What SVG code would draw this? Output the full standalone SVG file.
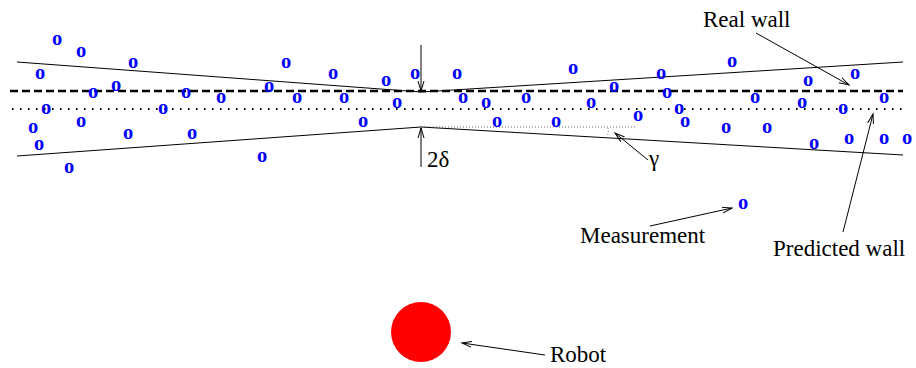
<svg xmlns="http://www.w3.org/2000/svg" width="916" height="368" viewBox="0 0 916 368">
<style>
.o{font-family:"Liberation Serif","Times New Roman",serif;font-weight:bold;font-size:20.5px;fill:#0000ff;text-anchor:middle}
.lbl{font-family:"Liberation Serif","Times New Roman",serif;font-size:23px;fill:#000}
.thin{stroke:#000;stroke-width:1;fill:none}
</style>
<defs>
<marker id="ah" markerWidth="12" markerHeight="8" refX="10" refY="4" orient="auto" markerUnits="userSpaceOnUse">
<path d="M0,1 L10,4 L0,7" fill="none" stroke="#000" stroke-width="1"/>
</marker>
</defs>
<rect width="916" height="368" fill="#fff"/>
<g id="walls">
<polyline class="thin" points="17,62 421,92 903,62"/>
<polyline class="thin" points="17,156 421,127 903,155"/>
<line x1="10" y1="91" x2="903" y2="91" stroke="#000" stroke-width="2.5" stroke-dasharray="8 4"/>
<line x1="12" y1="109" x2="903" y2="109" stroke="#000" stroke-width="2" stroke-dasharray="1.6 6.4"/>
<line x1="421" y1="127" x2="636" y2="127" stroke="#444" stroke-width="0.8" stroke-dasharray="1 2"/>
<path d="M608,128 Q609,132 607,136" fill="none" stroke="#444" stroke-width="0.8" stroke-dasharray="1 2"/>
</g>
<g id="measurements">
<text class="o" x="57" y="45">o</text>
<text class="o" x="81" y="57">o</text>
<text class="o" x="133" y="68">o</text>
<text class="o" x="40" y="79">o</text>
<text class="o" x="116" y="91">o</text>
<text class="o" x="93" y="98">o</text>
<text class="o" x="186" y="98">o</text>
<text class="o" x="221" y="103">o</text>
<text class="o" x="46" y="114">o</text>
<text class="o" x="163" y="114">o</text>
<text class="o" x="33" y="133">o</text>
<text class="o" x="81" y="127">o</text>
<text class="o" x="128" y="139">o</text>
<text class="o" x="192" y="139">o</text>
<text class="o" x="39" y="150">o</text>
<text class="o" x="69" y="173">o</text>
<text class="o" x="286" y="68">o</text>
<text class="o" x="333" y="79">o</text>
<text class="o" x="386" y="86">o</text>
<text class="o" x="415" y="79">o</text>
<text class="o" x="457" y="79">o</text>
<text class="o" x="269" y="92">o</text>
<text class="o" x="297" y="103">o</text>
<text class="o" x="344" y="103">o</text>
<text class="o" x="397" y="108">o</text>
<text class="o" x="463" y="103">o</text>
<text class="o" x="363" y="127">o</text>
<text class="o" x="262" y="162">o</text>
<text class="o" x="573" y="74">o</text>
<text class="o" x="614" y="92">o</text>
<text class="o" x="661" y="79">o</text>
<text class="o" x="667" y="98">o</text>
<text class="o" x="486" y="108">o</text>
<text class="o" x="526" y="103">o</text>
<text class="o" x="591" y="108">o</text>
<text class="o" x="679" y="114">o</text>
<text class="o" x="497" y="127">o</text>
<text class="o" x="556" y="127">o</text>
<text class="o" x="638" y="121">o</text>
<text class="o" x="685" y="127">o</text>
<text class="o" x="732" y="67">o</text>
<text class="o" x="808" y="86">o</text>
<text class="o" x="855" y="79">o</text>
<text class="o" x="755" y="103">o</text>
<text class="o" x="802" y="108">o</text>
<text class="o" x="843" y="114">o</text>
<text class="o" x="884" y="103">o</text>
<text class="o" x="726" y="133">o</text>
<text class="o" x="767" y="133">o</text>
<text class="o" x="814" y="149">o</text>
<text class="o" x="849" y="144">o</text>
<text class="o" x="884" y="144">o</text>
<text class="o" x="907" y="144">o</text>
<text class="o" x="743" y="209">o</text>
</g>
<g id="robot">
<circle cx="421" cy="332" r="30" fill="#ff0000"/>
</g>
<g id="labels">
<text class="lbl" x="703" y="27">Real wall</text>
<text class="lbl" x="580" y="243">Measurement</text>
<text class="lbl" x="773" y="256">Predicted wall</text>
<text class="lbl" x="550" y="362">Robot</text>
<text class="lbl" x="427" y="167">2δ</text>
<text class="lbl" x="649" y="166">γ</text>
</g>
<g id="connectors">
<line class="thin" x1="421" y1="45" x2="421" y2="91" marker-end="url(#ah)"/>
<line class="thin" x1="421" y1="167" x2="421" y2="128" marker-end="url(#ah)"/>
<line class="thin" x1="648" y1="160" x2="615" y2="133" marker-end="url(#ah)"/>
<line class="thin" x1="756" y1="33" x2="849" y2="85" marker-end="url(#ah)"/>
<line class="thin" x1="843" y1="232" x2="873" y2="114" marker-end="url(#ah)"/>
<line class="thin" x1="650" y1="226" x2="732" y2="208" marker-end="url(#ah)"/>
<line class="thin" x1="545" y1="355" x2="462" y2="343" marker-end="url(#ah)"/>
</g>
</svg>
